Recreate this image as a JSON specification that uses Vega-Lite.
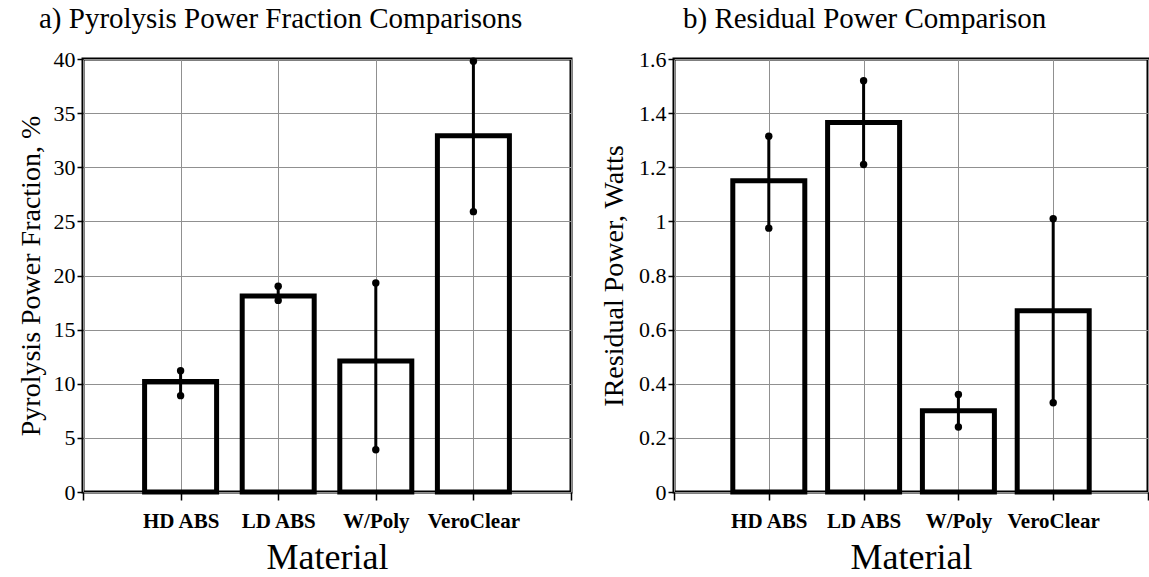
{
  "$schema": "https://vega.github.io/schema/vega-lite/v6.json",
  "padding": {"left": 15, "top": 3, "right": 0, "bottom": 0},
  "background": "white",
  "spacing": 25,
  "config": {
    "view": {"stroke": "black", "strokeWidth": 3},
    "font": "Liberation Serif",
    "style": {"guide-label": {"font": "Liberation Serif"}, "guide-title": {"font": "Liberation Serif"}},
    "axis": {
      "grid": true,
      "gridColor": "#909090",
      "gridWidth": 1,
      "domain": false,
      "tickColor": "black",
      "tickWidth": 1.5,
      "labelColor": "black",
      "titleColor": "black",
      "labelFont": "Liberation Serif",
      "titleFont": "Liberation Serif",
      "titleFontWeight": "normal"
    },
    "title": {"font": "Liberation Serif", "fontWeight": "normal", "color": "black", "fontSize": 29}
  },
  "datasets": {
    "pyro": [
      {"material": "HD ABS", "value": 10.2, "low": 8.9, "high": 11.2},
      {"material": "LD ABS", "value": 18.1, "low": 17.7, "high": 19.0},
      {"material": "W/Poly", "value": 12.1, "low": 3.9, "high": 19.3},
      {"material": "VeroClear", "value": 32.9, "low": 25.9, "high": 39.8}
    ],
    "resid": [
      {"material": "HD ABS", "value": 1.15, "low": 0.975, "high": 1.315},
      {"material": "LD ABS", "value": 1.365, "low": 1.21, "high": 1.52},
      {"material": "W/Poly", "value": 0.30, "low": 0.24, "high": 0.36},
      {"material": "VeroClear", "value": 0.67, "low": 0.33, "high": 1.01}
    ]
  },
  "hconcat": [
    {
      "title": {"text": "a) Pyrolysis Power Fraction Comparisons", "anchor": "start", "frame": "group", "dx": -44, "offset": 14, "font": "Liberation Serif"},
      "width": 488,
      "height": 433,
      "data": {"name": "pyro"},
      "encoding": {
        "x": {
          "field": "material", "type": "nominal", "sort": null,
          "scale": {"type": "point", "domain": [" ", "HD ABS", "LD ABS", "W/Poly", "VeroClear", "  "], "padding": 0},
          "axis": {"title": "Material", "titleFont": "Liberation Serif", "labelFont": "Liberation Serif", "titleFontSize": 36, "titlePadding": 9, "labelFontSize": 21, "labelFontWeight": "bold", "labelAngle": 0, "tickSize": 8, "labelPadding": 10, "labelExpr": "trim(datum.label)"}
        }
      },
      "layer": [
        {
          "mark": {"type": "bar", "filled": false, "color": "black", "strokeWidth": 5, "size": 72},
          "encoding": {
            "y": {"field": "value", "type": "quantitative", "scale": {"domain": [0, 40], "nice": false},
              "axis": {"title": "Pyrolysis Power Fraction, %", "titleFont": "Liberation Serif", "labelFont": "Liberation Serif", "titleFontSize": 28, "titlePadding": 8, "labelFontSize": 22, "tickSize": 6, "labelPadding": 2, "values": [0, 5, 10, 15, 20, 25, 30, 35, 40]}}
          }
        },
        {
          "mark": {"type": "rule", "color": "black", "strokeWidth": 3},
          "encoding": {"y": {"field": "low", "type": "quantitative"}, "y2": {"field": "high"}}
        },
        {
          "mark": {"type": "point", "filled": true, "color": "black", "opacity": 1, "size": 55},
          "encoding": {"y": {"field": "low", "type": "quantitative"}}
        },
        {
          "mark": {"type": "point", "filled": true, "color": "black", "opacity": 1, "size": 55},
          "encoding": {"y": {"field": "high", "type": "quantitative"}}
        }
      ]
    },
    {
      "title": {"text": "b) Residual Power Comparison", "anchor": "start", "frame": "group", "dx": 9, "offset": 14, "font": "Liberation Serif"},
      "width": 474,
      "height": 433,
      "data": {"name": "resid"},
      "encoding": {
        "x": {
          "field": "material", "type": "nominal", "sort": null,
          "scale": {"type": "point", "domain": [" ", "HD ABS", "LD ABS", "W/Poly", "VeroClear", "  "], "padding": 0},
          "axis": {"title": "Material", "titleFont": "Liberation Serif", "labelFont": "Liberation Serif", "titleFontSize": 36, "titlePadding": 9, "labelFontSize": 21, "labelFontWeight": "bold", "labelAngle": 0, "tickSize": 8, "labelPadding": 10, "labelExpr": "trim(datum.label)"}
        }
      },
      "layer": [
        {
          "mark": {"type": "bar", "filled": false, "color": "black", "strokeWidth": 5, "size": 72},
          "encoding": {
            "y": {"field": "value", "type": "quantitative", "scale": {"domain": [0, 1.6], "nice": false},
              "axis": {"title": "IResidual Power,  Watts", "titleFont": "Liberation Serif", "labelFont": "Liberation Serif", "titleFontSize": 28, "titlePadding": 10, "labelFontSize": 22, "tickSize": 6, "labelPadding": 2, "format": "~g", "values": [0, 0.2, 0.4, 0.6, 0.8, 1, 1.2, 1.4, 1.6]}}
          }
        },
        {
          "mark": {"type": "rule", "color": "black", "strokeWidth": 3},
          "encoding": {"y": {"field": "low", "type": "quantitative"}, "y2": {"field": "high"}}
        },
        {
          "mark": {"type": "point", "filled": true, "color": "black", "opacity": 1, "size": 55},
          "encoding": {"y": {"field": "low", "type": "quantitative"}}
        },
        {
          "mark": {"type": "point", "filled": true, "color": "black", "opacity": 1, "size": 55},
          "encoding": {"y": {"field": "high", "type": "quantitative"}}
        }
      ]
    }
  ]
}
